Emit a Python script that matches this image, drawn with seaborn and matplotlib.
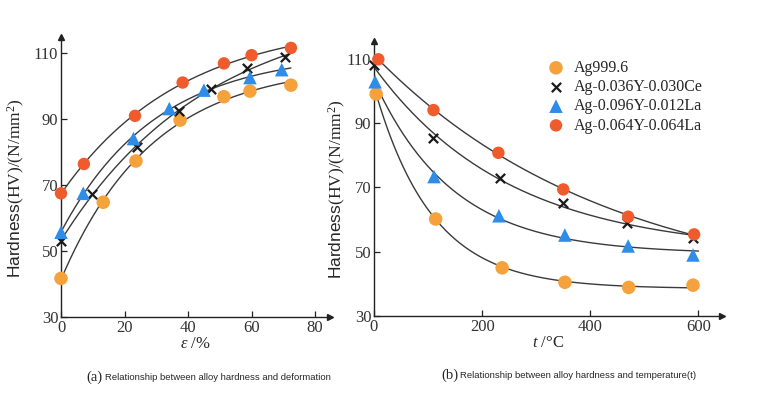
import numpy as np
import pandas as pd
import matplotlib
matplotlib.use("Agg")
import matplotlib.pyplot as plt
import seaborn as sns

# Datos
series = ["Ag999.6", "Ag-0.036Y-0.030Ce", "Ag-0.096Y-0.012La", "Ag-0.064Y-0.064La"]

# (a) dureza vs deformacion
def_ag = [0, 13.3, 23.6, 37.5, 51.3, 59.5, 72.4]
hv_def_ag = [41.7, 64.8, 77.3, 89.7, 96.8, 98.5, 100.3]
def_ce = [0, 9.7, 23.8, 37.0, 47.1, 58.5, 70.6]
hv_def_ce = [53.1, 67.2, 81.6, 92.5, 99.0, 105.4, 108.9]
def_la12 = [0, 7.0, 22.8, 34.1, 45.0, 59.5, 69.5]
hv_def_la12 = [55.7, 67.5, 84.1, 93.2, 98.8, 102.6, 105.0]
def_la64 = [0, 7.2, 23.3, 38.3, 51.3, 60.0, 72.4]
hv_def_la64 = [67.5, 76.4, 91.0, 101.1, 106.9, 109.4, 111.6]

# (b) dureza vs temperatura
t_ag = [4, 114, 237, 353, 471, 590]
hv_t_ag = [99.1, 60.2, 45.0, 40.5, 38.9, 39.6]
t_ce = [0, 110, 233, 350, 467, 590]
hv_t_ce = [108.1, 85.3, 73.0, 65.1, 58.9, 54.2]
t_la12 = [2, 111, 231, 353, 470, 590]
hv_t_la12 = [102.9, 73.4, 61.2, 55.2, 51.8, 49.0]
t_la64 = [8, 110, 230, 350, 470, 592]
hv_t_la64 = [109.9, 94.1, 80.8, 69.4, 60.9, 55.4]

colors = ["#F6A23C", "#1a1a1a", "#2E8DE8", "#EF5B2C"]
markers = ["o", "x", "^", "o"]
sizes = [95, 45, 95, 80]

sns.set_style("ticks")
plt.rcParams["font.family"] = ["Liberation Serif", "DejaVu Serif"]
plt.rcParams["mathtext.fontset"] = "custom"
plt.rcParams["mathtext.rm"] = "Liberation Serif"
plt.rcParams["mathtext.it"] = "Liberation Serif:italic"
plt.rcParams["xtick.direction"] = "in"
plt.rcParams["ytick.direction"] = "in"


# Ajuste exponencial y = a + b*exp(-x/c) (busqueda en rejilla de c)
def fit_curve(x, y, c_grid, x_new):
    x = np.asarray(x, float)
    y = np.asarray(y, float)
    best = None
    for c in c_grid:
        A = np.column_stack([np.ones_like(x), np.exp(-x / c)])
        coef = np.linalg.lstsq(A, y, rcond=None)[0]
        err = np.sum((A @ coef - y) ** 2)
        if best is None or err < best[0]:
            best = (err, c, coef)
    _, c, coef = best
    return coef[0] + coef[1] * np.exp(-x_new / c)


def draw_panel(ax, xs, ys, c_grid, x_end):
    for i, (x, y) in enumerate(zip(xs, ys)):
        xx = np.linspace(0, x_end, 200)
        yy = fit_curve(x, y, c_grid, xx)
        sns.lineplot(x=xx, y=yy, color="#3a3a3a", lw=1.0, ax=ax, zorder=2)
    for i, (x, y) in enumerate(zip(xs, ys)):
        df = pd.DataFrame({"x": x, "y": y})
        if markers[i] == "x":
            kw = dict(linewidth=1.6)
        else:
            kw = dict(edgecolor="none")
        sns.scatterplot(data=df, x="x", y="y", ax=ax, color=colors[i],
                        marker=markers[i], s=sizes[i], label=series[i],
                        zorder=3, clip_on=False, **kw)


def style_axis(ax, xlim, ylim, xticks):
    ax.set_xlim(*xlim)
    ax.set_ylim(*ylim)
    ax.set_xticks(xticks)
    ax.set_yticks([30, 50, 70, 90, 110])
    sns.despine(ax=ax)
    for s in ["left", "bottom"]:
        ax.spines[s].set_linewidth(1.0)
        ax.spines[s].set_color("#222222")
    ax.tick_params(labelsize=12, length=4, width=0.9, colors="#222222",
                   labelcolor="#333333", pad=2)
    ax.plot(0, 1, "^", color="#222222", ms=5, transform=ax.transAxes, clip_on=False)
    ax.plot(1, 0, ">", color="#222222", ms=5, transform=ax.transAxes, clip_on=False)
    lab = ax.set_ylabel(r"Hardness$\mathrm{(HV)/(N/mm^2)}$", fontsize=12.5)
    lab.set_fontfamily(["Liberation Sans", "DejaVu Sans"])


fig = plt.figure(figsize=(7.68, 3.93), dpi=100)

ax1 = fig.add_axes([61 / 768, 76 / 393, 269 / 768, 280.3 / 393])
draw_panel(ax1, [def_ag, def_ce, def_la12, def_la64],
           [hv_def_ag, hv_def_ce, hv_def_la12, hv_def_la64],
           np.linspace(5, 200, 400), 72.4)
style_axis(ax1, (0, 84.7), (30, 115), [0, 20, 40, 60, 80])
ax1.set_xlabel(r"$\varepsilon$ /%", fontsize=12, labelpad=0)
ax1.yaxis.set_label_coords(-0.127, 0.46)
ax1.get_legend().remove()

ax2 = fig.add_axes([374 / 768, 77 / 393, 347.7 / 768, 275 / 393])
draw_panel(ax2, [t_ag, t_ce, t_la12, t_la64],
           [hv_t_ag, hv_t_ce, hv_t_la12, hv_t_la64],
           np.linspace(20, 1500, 600), 600)
style_axis(ax2, (0, 643), (30, 115.6), [0, 200, 400, 600])
ax2.set_xlabel(r"$t$ /°C", fontsize=12, labelpad=0)
ax2.yaxis.set_label_coords(-0.075, 0.46)
ax2.legend(loc="upper left", bbox_to_anchor=(548 / 768, 333 / 393),
           bbox_transform=fig.transFigure, frameon=False, fontsize=11.5,
           handletextpad=0.6, handlelength=1.0, labelspacing=0.2,
           borderaxespad=0, borderpad=0)

# Pies de figura
fig.text(86 / 768, 16 / 393, "(a)", fontsize=10.5, va="center")
fig.text(105 / 768, 16 / 393, "Relationship between alloy hardness and deformation",
         fontsize=6.8, va="center", family=["Liberation Sans", "DejaVu Sans"])
fig.text(441 / 768, 18 / 393, "(b)", fontsize=10.5, va="center")
fig.text(460 / 768, 18 / 393, "Relationship between alloy hardness and temperature(t)",
         fontsize=6.8, va="center", family=["Liberation Sans", "DejaVu Sans"])

fig.savefig("out.png", dpi=100)
